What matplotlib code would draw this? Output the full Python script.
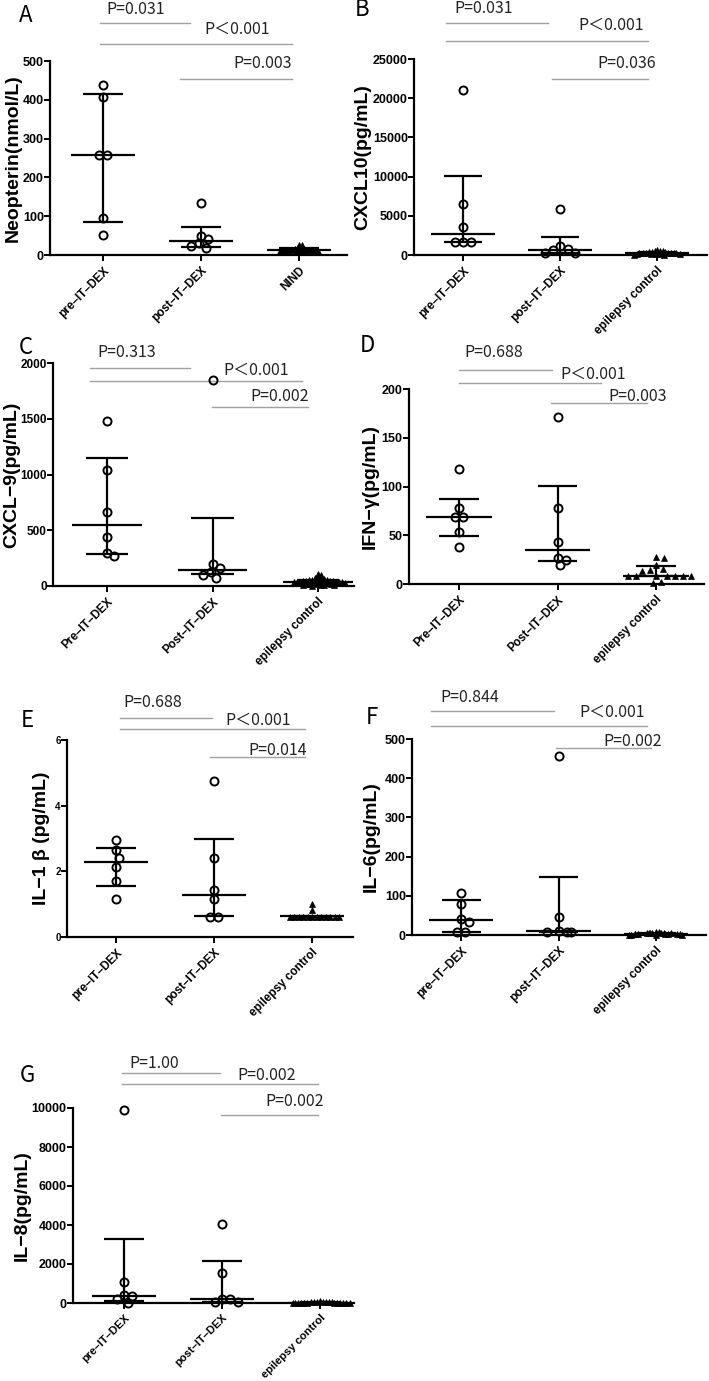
import matplotlib
matplotlib.use('Agg')
import matplotlib.pyplot as plt
import numpy as np

# ---------------- DATA ----------------
A_labels = ["pre–IT–DEX", "post–IT–DEX", "NIND"]
A_pre = [437, 407, 258, 258, 95, 52]
A_post = [133, 50, 40, 30, 23, 19]
A_ctrl = [27, 25, 20, 17, 16, 15, 14, 14, 13, 13, 12, 12, 12, 11, 11, 10, 10, 9, 8, 7]
A_med = [258, 36, 14]
A_q1 = [85, 21, 11]
A_q3 = [415, 72, 17]
A_p = ["P=0.031", "P＜0.001", "P=0.003"]

B_labels = ["pre–IT–DEX", "post–IT–DEX", "epilepsy control"]
B_pre = [21000, 6500, 3600, 1700, 1600, 1600]
B_post = [5900, 1150, 800, 600, 300, 250]
B_ctrl = [600, 550, 500, 450, 400, 380, 350, 300, 300, 280, 250, 250,
          220, 200, 200, 180, 150, 120, 100, 80, 60, 40]
B_med = [2700, 700, 250]
B_q1 = [1600, 230, 150]
B_q3 = [10100, 2340, 350]
B_p = ["P=0.031", "P＜0.001", "P=0.036"]

C_labels = ["Pre–IT–DEX", "Post–IT–DEX", "epilepsy control"]
C_pre = [1480, 1040, 660, 440, 300, 270]
C_post = [1850, 200, 160, 130, 100, 75]
C_ctrl = [110, 95, 80, 70, 65, 60, 58, 55, 52, 50, 48, 46, 45, 44, 42, 40, 40, 38, 36,
          35, 34, 33, 32, 30, 28, 26, 25, 22, 20, 18, 15, 12, 10, 8, 5, 2]
C_med = [550, 147, 40]
C_q1 = [291, 105, 25]
C_q3 = [1151, 606, 55]
C_p = ["P=0.313", "P＜0.001", "P=0.002"]

D_labels = ["Pre–IT–DEX", "Post–IT–DEX", "epilepsy control"]
D_pre = [118, 78, 69, 69, 53, 38]
D_post = [171, 78, 43, 27, 25, 19]
D_ctrl = [28, 27, 19, 15, 14, 13, 8, 8, 8, 8, 8, 8, 8, 2, 1]
D_med = [69, 35, 8]
D_q1 = [49, 24, 8]
D_q3 = [87, 101, 18]
D_p = ["P=0.688", "P＜0.001", "P=0.003"]

E_labels = ["pre–IT–DEX", "post–IT–DEX", "epilepsy control"]
E_pre = [2.95, 2.64, 2.41, 2.14, 1.71, 1.15]
E_post = [4.76, 2.41, 1.42, 1.15, 0.62, 0.62]
E_ctrl = [0.99, 0.81, 0.62, 0.6, 0.6, 0.6, 0.6, 0.6, 0.6, 0.6, 0.6, 0.6, 0.6, 0.6]
E_med = [2.27, 1.29, 0.63]
E_q1 = [1.56, 0.63, 0.6]
E_q3 = [2.72, 3.0, 0.63]
E_p = ["P=0.688", "P＜0.001", "P=0.014"]

F_labels = ["pre–IT–DEX", "post–IT–DEX", "epilepsy control"]
F_pre = [108, 80, 40, 33, 8, 8]
F_post = [457, 47, 9, 8, 7, 7]
F_ctrl = [8, 7, 6, 6, 5, 5, 4, 4, 4, 3, 3, 3, 2, 2, 2, 2, 1, 1, 1, 0.5]
F_med = [37, 9, 2]
F_q1 = [8.5, 8, 1]
F_q3 = [89, 149, 4]
F_p = ["P=0.844", "P＜0.001", "P=0.002"]

G_labels = ["pre–IT–DEX", "post–IT–DEX", "epilepsy control"]
G_pre = [9880, 1080, 390, 360, 190, 20]
G_post = [4030, 1540, 220, 190, 40, 30]
G_ctrl = [80, 70, 60, 50, 45, 40, 35, 30, 25, 25, 20, 20, 15, 15, 10, 10, 5, 5, 2, 1]
G_med = [375, 205, 20]
G_q1 = [100, 40, 10]
G_q3 = [3300, 2170, 40]
G_p = ["P=1.00", "P=0.002", "P=0.002"]

# ---------------- LAYOUT (pixels) ----------------
W, H = 709, 1381
panels = [
    dict(letter="A", lxy=(26, 15), ylabel="Neopterin(nmol/L)", ylx=13,
         box=(50, 347, 61, 255), g=(103, 299), ymax=500, step=100, tfs=9, tri=3.0, xfs=8.5,
         data=(A_pre, A_post, A_ctrl), med=A_med, q1=A_q1, q3=A_q3, labels=A_labels, p=A_p,
         lines=[(100, 190, 23), (100, 292, 44), (180, 292, 79)],
         ptxt=[(106, 9), (204, 29), (233, 63)]),
    dict(letter="B", lxy=(362, 9), ylabel="CXCL10(pg/mL)", ylx=363,
         box=(414, 707, 59, 255), g=(463, 657), ymax=25000, step=5000, tfs=9, tri=2.6, xfs=8.5,
         data=(B_pre, B_post, B_ctrl), med=B_med, q1=B_q1, q3=B_q3, labels=B_labels, p=B_p,
         lines=[(446, 548, 23), (446, 648, 41), (552, 648, 79)],
         ptxt=[(454, 8), (578, 25), (597, 63)]),
    dict(letter="C", lxy=(26, 347), ylabel="CXCL−9(pg/mL)", ylx=12,
         box=(53, 354, 363, 586), g=(107, 318), ymax=2000, step=500, tfs=8.5, tri=3.0, xfs=8.5,
         data=(C_pre, C_post, C_ctrl), med=C_med, q1=C_q1, q3=C_q3, labels=C_labels, p=C_p,
         lines=[(90, 190, 368), (90, 302, 381), (212, 308, 407)],
         ptxt=[(97, 352), (223, 370), (250, 396)]),
    dict(letter="D", lxy=(367, 345), ylabel="IFN−γ(pg/mL)", ylx=370,
         box=(409, 704, 389, 584), g=(459, 656), ymax=200, step=50, tfs=9, tri=7.6, xfs=8.5,
         data=(D_pre, D_post, D_ctrl), med=D_med, q1=D_q1, q3=D_q3, labels=D_labels, p=D_p,
         lines=[(459, 552, 370), (459, 601, 383), (551, 647, 403)],
         ptxt=[(464, 352), (560, 374), (608, 396)]),
    dict(letter="E", lxy=(27, 720), ylabel="IL−1 β (pg/mL)", ylx=42,
         box=(67, 353, 740, 937), g=(116, 312), ymax=6, step=2, tfs=7, tri=4.3, xfs=8.5,
         data=(E_pre, E_post, E_ctrl), med=E_med, q1=E_q1, q3=E_q3, labels=E_labels, p=E_p,
         lines=[(120, 212, 718), (120, 305, 729), (210, 305, 757)],
         ptxt=[(123, 702), (225, 720), (248, 750)]),
    dict(letter="F", lxy=(372, 717), ylabel="IL−6(pg/mL)", ylx=371,
         box=(412, 706, 739, 935), g=(461, 656), ymax=500, step=100, tfs=9, tri=2.8, xfs=8.5,
         data=(F_pre, F_post, F_ctrl), med=F_med, q1=F_q1, q3=F_q3, labels=F_labels, p=F_p,
         lines=[(431, 554, 711), (431, 647, 726), (556, 651, 748)],
         ptxt=[(440, 697), (579, 712), (603, 741)]),
    dict(letter="G", lxy=(27, 1075), ylabel="IL−8(pg/mL)", ylx=22,
         box=(73, 354, 1108, 1303), g=(124, 320), ymax=10000, step=2000, tfs=9, tri=2.7, xfs=8,
         data=(G_pre, G_post, G_ctrl), med=G_med, q1=G_q1, q3=G_q3, labels=G_labels, p=G_p,
         lines=[(122, 220, 1073), (122, 318, 1084), (221, 318, 1115)],
         ptxt=[(129, 1063), (237, 1075), (265, 1102)]),
]

CJK = ['Noto Sans CJK JP', 'DejaVu Sans']
LAT = ['Liberation Sans', 'DejaVu Sans']


def swarm(values, d, ypx):
    """Pixel offsets so markers of diameter d do not overlap; equal values centred."""
    ys = np.asarray(values, dtype=float) * ypx
    placed = []
    offs = np.zeros(len(ys))
    for i, y in enumerate(ys):
        best = None
        k = 0
        while best is None:
            cands = [0.0] if k == 0 else [k * 0.5, -k * 0.5]
            for c in cands:
                if all((c - px) ** 2 + (y - py) ** 2 >= d * d * 0.999 for px, py in placed):
                    best = c
                    break
            k += 1
        placed.append((best, y))
        offs[i] = best
    vals = np.asarray(values, dtype=float)
    for v in np.unique(vals):
        idx = np.where(vals == v)[0]
        if 1 < len(idx) < 4:
            offs[idx] = offs[idx] - offs[idx].mean()
    return offs


fig = plt.figure(figsize=(W / 100, H / 100), dpi=100)
fig.patch.set_facecolor('white')

overlay = fig.add_axes([0, 0, 1, 1])
overlay.set_xlim(0, W)
overlay.set_ylim(H, 0)
overlay.axis('off')

for p in panels:
    l, r, t, b = p['box']
    ax = fig.add_axes([l / W, 1 - b / H, (r - l) / W, (b - t) / H])
    ax.patch.set_alpha(0)
    g0, g2 = p['g']
    sp = (g2 - g0) / 2
    ax.set_xlim((l - g0) / sp, (r - g0) / sp)
    ax.set_ylim(0, p['ymax'])
    ypx = (b - t) / p['ymax']
    for gi, vals in enumerate(p['data']):
        if gi < 2:
            offs = swarm(vals, 8.0, ypx) / sp
            ax.plot(gi + offs, vals, ls='none', marker='o', ms=5.8, mfc='none',
                    mec='black', mew=1.4, clip_on=False, zorder=3)
        else:
            offs = swarm(vals, p['tri'], ypx) / sp
            ax.plot(gi + offs, vals, ls='none', marker='^', ms=4.2, mfc='black',
                    mec='black', mew=0.5, clip_on=False, zorder=3)
        ax.hlines(p['med'][gi], gi - 0.33, gi + 0.33, color='black', lw=1.6, zorder=4)
        ax.vlines(gi, p['q1'][gi], p['q3'][gi], color='black', lw=1.6, zorder=4)
        ax.hlines([p['q1'][gi], p['q3'][gi]], gi - 0.2, gi + 0.2, color='black', lw=1.6, zorder=4)

    for s in ['top', 'right']:
        ax.spines[s].set_visible(False)
    for s in ['left', 'bottom']:
        ax.spines[s].set_linewidth(1.6)
    ticks = np.arange(0, p['ymax'] + p['step'] / 2, p['step'])
    ax.set_yticks(ticks)
    ax.set_yticklabels([f"{v:g}" for v in ticks], fontweight='bold', fontsize=p['tfs'],
                       family=LAT)
    ax.set_xticks([0, 1, 2])
    ax.set_xticklabels(p['labels'], rotation=45, ha='right', va='top',
                       rotation_mode='anchor', fontweight='bold', fontsize=p['xfs'], family=LAT)
    ax.tick_params(axis='y', length=4, width=1.4, pad=0.5)
    ax.tick_params(axis='x', length=4, width=1.4, pad=3)

    overlay.text(p['ylx'], (t + b) / 2, p['ylabel'], rotation=90, ha='center', va='center',
                 fontsize=14, fontweight='bold', family=LAT)
    overlay.text(p['lxy'][0], p['lxy'][1], p['letter'], ha='center', va='center',
                 fontsize=16, family=CJK)
    for (x1, x2, y) in p['lines']:
        overlay.plot([x1, x2], [y, y], color='#a0a0a0', lw=1.0)
    for (x, y), s in zip(p['ptxt'], p['p']):
        overlay.text(x, y, s, ha='left', va='center', fontsize=11.5, family=CJK, color='#222222')

fig.savefig('out.png', dpi=100)
